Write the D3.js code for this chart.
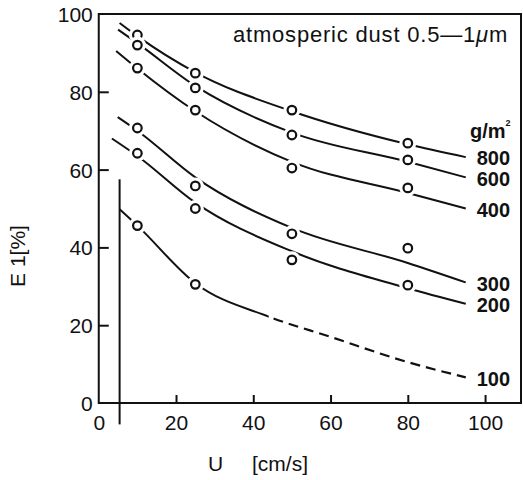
<!DOCTYPE html>
<html>
<head>
<meta charset="utf-8">
<script src="https://cdn.jsdelivr.net/npm/d3@7"></script>
<style>
  body { margin: 0; background: #fff; }
  text { font-family: "Liberation Sans", Arial, sans-serif; fill: #111; }
</style>
</head>
<body>
<svg id="canvas" width="523" height="480"></svg>
<script>
// velocity ticks and measured velocities
let uTicks = [0, 20, 40, 60, 80, 100]
let eTicks = [0, 20, 40, 60, 80, 100]
let uMeasured = [10, 25, 50, 80]

// dust loads (g/m2)
let loads = ["800", "600", "400", "300", "200", "100"]

// measured points E1 [%]
let meas800 = [94.6, 84.8, 75.3, 66.8]
let meas600 = [92.0, 81.0, 68.9, 62.5]
let meas400 = [86.1, 75.3, 60.4, 55.3]
let meas300 = [70.7, 55.8, 43.5, 39.8]
let meas200 = [64.2, 50.0, 36.8, 30.3]
let meas100 = [45.6, 30.5]

// fitted curves [U, E]
let fit800 = [[5.4, 97.7], [10, 94.3], [25, 85], [50, 75], [80, 66.5], [95, 63.2]]
let fit600 = [[5, 96], [10, 92.5], [25, 81.5], [50, 69.5], [80, 62], [95, 58]]
let fit400 = [[4.5, 90.5], [10, 86], [25, 75], [50, 62], [80, 54], [95, 50]]
let fit300 = [[4.9, 73.5], [10, 70], [25, 58], [50, 45], [80, 36], [95, 31]]
let fit200 = [[3.4, 68], [10, 63.5], [25, 51.5], [50, 39], [80, 29.5], [95, 25.5]]
let fit100 = [[5.4, 49.8], [10, 45.6], [25, 30.8], [44, 22.2], [60, 17], [80, 10.5], [95, 6.6]]
let dashFromU = 44

// wall line at small velocity
let wallU = 5.4
let wallRange = [-5.5, 57.5]

let curves = loads.map((name, i) => ({
    name: name,
    fit: [fit800, fit600, fit400, fit300, fit200, fit100][i],
    meas: [meas800, meas600, meas400, meas300, meas200, meas100][i]
}))

let canvas = d3.select("#canvas")

let xScale = d3.scaleLinear().domain([0, 109.3]).range([98.75, 521])
let yScale = d3.scaleLinear().domain([0, 100]).range([403, 14])

let line = d3.line()
    .x(d => xScale(d[0]))
    .y(d => yScale(d[1]))
    .curve(d3.curveMonotoneX)

// clip regions for solid / dashed part of the 100 curve
let defs = canvas.append("defs")
defs.append("clipPath").attr("id", "solidPart")
    .append("rect")
    .attr("x", 0).attr("y", 0)
    .attr("width", xScale(dashFromU)).attr("height", 480)
defs.append("clipPath").attr("id", "dashPart")
    .append("rect")
    .attr("x", xScale(dashFromU)).attr("y", 0)
    .attr("width", 523).attr("height", 480)

// frame
canvas.append("rect")
    .attr("x", xScale(0))
    .attr("y", yScale(100))
    .attr("width", xScale(109.3) - xScale(0))
    .attr("height", yScale(0) - yScale(100))
    .attr("fill", "none")
    .attr("stroke", "#111")
    .attr("stroke-width", 2)

// axes
let xAxis = canvas.append("g")
    .attr("transform", "translate(0," + yScale(0) + ")")
    .call(d3.axisBottom(xScale).tickValues(uTicks).tickSizeInner(-8).tickSizeOuter(0).tickPadding(12))
let yAxis = canvas.append("g")
    .attr("transform", "translate(" + xScale(0) + ",0)")
    .call(d3.axisLeft(yScale).tickValues(eTicks).tickSizeInner(-10).tickSizeOuter(0).tickPadding(6))

canvas.selectAll(".domain").remove()
canvas.selectAll(".tick line").attr("stroke", "#111").attr("stroke-width", 2)
xAxis.selectAll(".tick").filter(d => d === 0).select("line").remove()
yAxis.selectAll(".tick").filter(d => d === 0 || d === 100).select("line").remove()
canvas.selectAll(".tick text")
    .attr("font-size", 21)
    .attr("font-family", "Liberation Sans, Arial, sans-serif")
    .attr("fill", "#111")
yAxis.selectAll(".tick text").attr("dy", "0.36em")
xAxis.selectAll(".tick text").attr("dy", "0.7em")

// wall line
canvas.append("line")
    .attr("x1", xScale(wallU)).attr("x2", xScale(wallU))
    .attr("y1", yScale(wallRange[0])).attr("y2", yScale(wallRange[1]))
    .attr("stroke", "#111")
    .attr("stroke-width", 2)

// curves
curves.forEach(c => {
    if (c.name === "100") {
        canvas.append("path")
            .attr("d", line(c.fit))
            .attr("fill", "none").attr("stroke", "#111").attr("stroke-width", 2)
            .attr("clip-path", "url(#solidPart)")
        canvas.append("path")
            .attr("d", line(c.fit))
            .attr("fill", "none").attr("stroke", "#111").attr("stroke-width", 2.2)
            .attr("stroke-dasharray", "10,6")
            .attr("clip-path", "url(#dashPart)")
    } else {
        canvas.append("path")
            .attr("d", line(c.fit))
            .attr("fill", "none").attr("stroke", "#111").attr("stroke-width", 2)
    }
})

// markers, with white halo to break the lines
curves.forEach(c => {
    let pts = c.meas.map((e, i) => [uMeasured[i], e])
    canvas.selectAll(null)
        .data(pts)
        .enter()
        .append("circle")
        .attr("cx", d => xScale(d[0]))
        .attr("cy", d => yScale(d[1]))
        .attr("r", 8.5)
        .attr("fill", "#fff")
    canvas.selectAll(null)
        .data(pts)
        .enter()
        .append("circle")
        .attr("cx", d => xScale(d[0]))
        .attr("cy", d => yScale(d[1]))
        .attr("r", 4.3)
        .attr("fill", "#fff")
        .attr("stroke", "#111")
        .attr("stroke-width", 2.2)
})

// curve labels
curves.forEach(c => {
    let last = c.fit[c.fit.length - 1]
    canvas.append("text")
        .attr("x", xScale(last[0]) + 11)
        .attr("y", yScale(last[1]) + 1)
        .attr("dy", "0.36em")
        .attr("font-size", 20)
        .attr("font-weight", "bold")
        .text(c.name)
})

let unit = canvas.append("text")
    .attr("x", 470)
    .attr("y", 138)
    .attr("font-size", 20)
    .attr("font-weight", "bold")
unit.append("tspan").text("g/m")
unit.append("tspan").attr("font-size", 9).attr("dy", -12).text("2")

// title
let title = canvas.append("text")
    .attr("x", 233)
    .attr("y", 42)
    .attr("font-size", 22)
    .attr("letter-spacing", 0.8)
title.append("tspan").text("atmosperic dust 0.5\u20141")
title.append("tspan").attr("font-style", "italic").text("\u03bc")
title.append("tspan").text("m")

// axis labels
let xl = canvas.append("text")
    .attr("x", 208)
    .attr("y", 471)
    .attr("font-size", 21)
xl.append("tspan").text("U")
xl.append("tspan").attr("x", 252).text("[cm/s]")

canvas.append("text")
    .attr("transform", "translate(25,256) rotate(-90)")
    .attr("text-anchor", "middle")
    .attr("font-size", 21)
    .text("E 1[%]")
</script>
</body>
</html>
